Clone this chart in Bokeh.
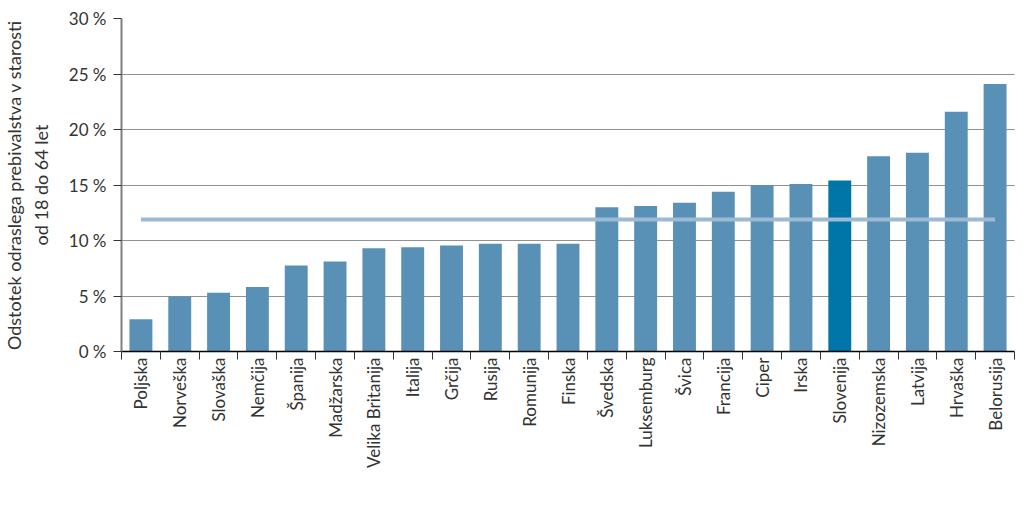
import math
from bokeh.plotting import figure
from bokeh.models import (FactorRange, Range1d, LinearAxis, FixedTicker,
                          PrintfTickFormatter, ColumnDataSource, Legend, LegendItem, Grid)
from bokeh.embed import file_html
from bokeh.resources import INLINE

# ---- data ----
countries = ["Poljska", "Norveška", "Slovaška", "Nemčija", "Španija", "Madžarska",
             "Velika Britanija", "Italija", "Grčija", "Rusija", "Romunija", "Finska",
             "Švedska", "Luksemburg", "Švica", "Francija", "Ciper", "Irska", "Slovenija",
             "Nizozemska", "Latvija", "Hrvaška", "Belorusija"]
values = [2.9, 4.95, 5.3, 5.8, 7.75, 8.1, 9.3, 9.4, 9.55, 9.7, 9.7, 9.7,
          13.0, 13.1, 13.4, 14.4, 15.0, 15.1, 15.4, 17.6, 17.9, 21.6, 24.1]
highlight = "Slovenija"
average = 11.9
y_ticks = [0, 5, 10, 15, 20, 25, 30]
grid_ticks = [5, 10, 15, 20, 25]
series_label = "Podjetniške namere med tistimi, ki niso vključeni v nobeno podjetniško aktivnost"
avg_label = "Povprečje"
y_title = "Odstotek odraslega prebivalstva v starosti\nod 18 do 64 let"

# ---- style ----
FONT = "Lato"
TXT = "#333333"
BAR = "#5891b5"
BAR_HI = "#0075a8"
AVG = "#9dbad4"

colors = [BAR_HI if c == highlight else BAR for c in countries]
src = ColumnDataSource(dict(x=countries, top=values, color=colors))

p = figure(frame_width=893, frame_height=333,
           x_range=FactorRange(*countries, range_padding=0),
           y_range=Range1d(0, 30),
           output_backend="svg", toolbar_location=None,
           x_axis_location=None, y_axis_location=None,
           min_border_top=18, min_border_right=4, min_border_left=115,
           min_border_bottom=0,
           outline_line_color=None)
for g in list(p.grid):
    g.visible = False

p.add_layout(Grid(dimension=1, ticker=FixedTicker(ticks=grid_ticks),
                  grid_line_color="#222222", grid_line_dash="1 1", grid_line_width=1))

bars = p.vbar(x="x", top="top", width=0.59, source=src, fill_color="color",
              line_color=None)
avg_line = p.line(x=[countries[0], countries[-1]], y=[average, average],
                  line_color=AVG, line_width=4)

# y axis
yax = LinearAxis(ticker=FixedTicker(ticks=y_ticks),
                 formatter=PrintfTickFormatter(format="%d %%"),
                 axis_label=y_title,
                 axis_line_color="#808080", axis_line_width=2,
                 major_tick_line_color="#333333", major_tick_out=8, major_tick_in=0,
                 minor_tick_line_color=None,
                 major_label_standoff=7,
                 major_label_text_font=FONT, major_label_text_font_size="17px",
                 major_label_text_color=TXT,
                 axis_label_text_font=FONT, axis_label_text_font_size="18px",
                 axis_label_text_font_style="normal", axis_label_text_color=TXT,
                 axis_label_standoff=14)
p.add_layout(yax, "left")

# x axis on the factor range's synthetic coordinates:
# labels at category centres, small ticks at the boundaries between categories
centres = [i + 0.5 for i in range(len(countries))]
edges = list(range(len(countries) + 1))
xax = LinearAxis(ticker=FixedTicker(ticks=centres, minor_ticks=edges),
                 major_label_overrides={c: name for c, name in zip(centres, countries)},
                 axis_line_color="black", axis_line_width=1.5,
                 major_tick_line_color=None, major_tick_out=8, major_tick_in=0,
                 minor_tick_line_color="#333333", minor_tick_out=8, minor_tick_in=0,
                 major_label_orientation=math.pi / 2,
                 major_label_standoff=-2,
                 major_label_text_font=FONT, major_label_text_font_size="17px",
                 major_label_text_color=TXT)
p.add_layout(xax, "below")

legend = Legend(items=[LegendItem(label=series_label, renderers=[bars], index=0),
                       LegendItem(label=avg_label, renderers=[avg_line])],
                orientation="vertical", location="top_center",
                border_line_color=None, background_fill_alpha=0,
                glyph_width=32, glyph_height=20, label_height=18,
                label_text_font=FONT, label_text_font_size="17px", label_text_color=TXT,
                padding=0, spacing=0, margin=4, label_standoff=3)
p.add_layout(legend, "below")

open("out.html", "w").write(file_html(p, INLINE))
